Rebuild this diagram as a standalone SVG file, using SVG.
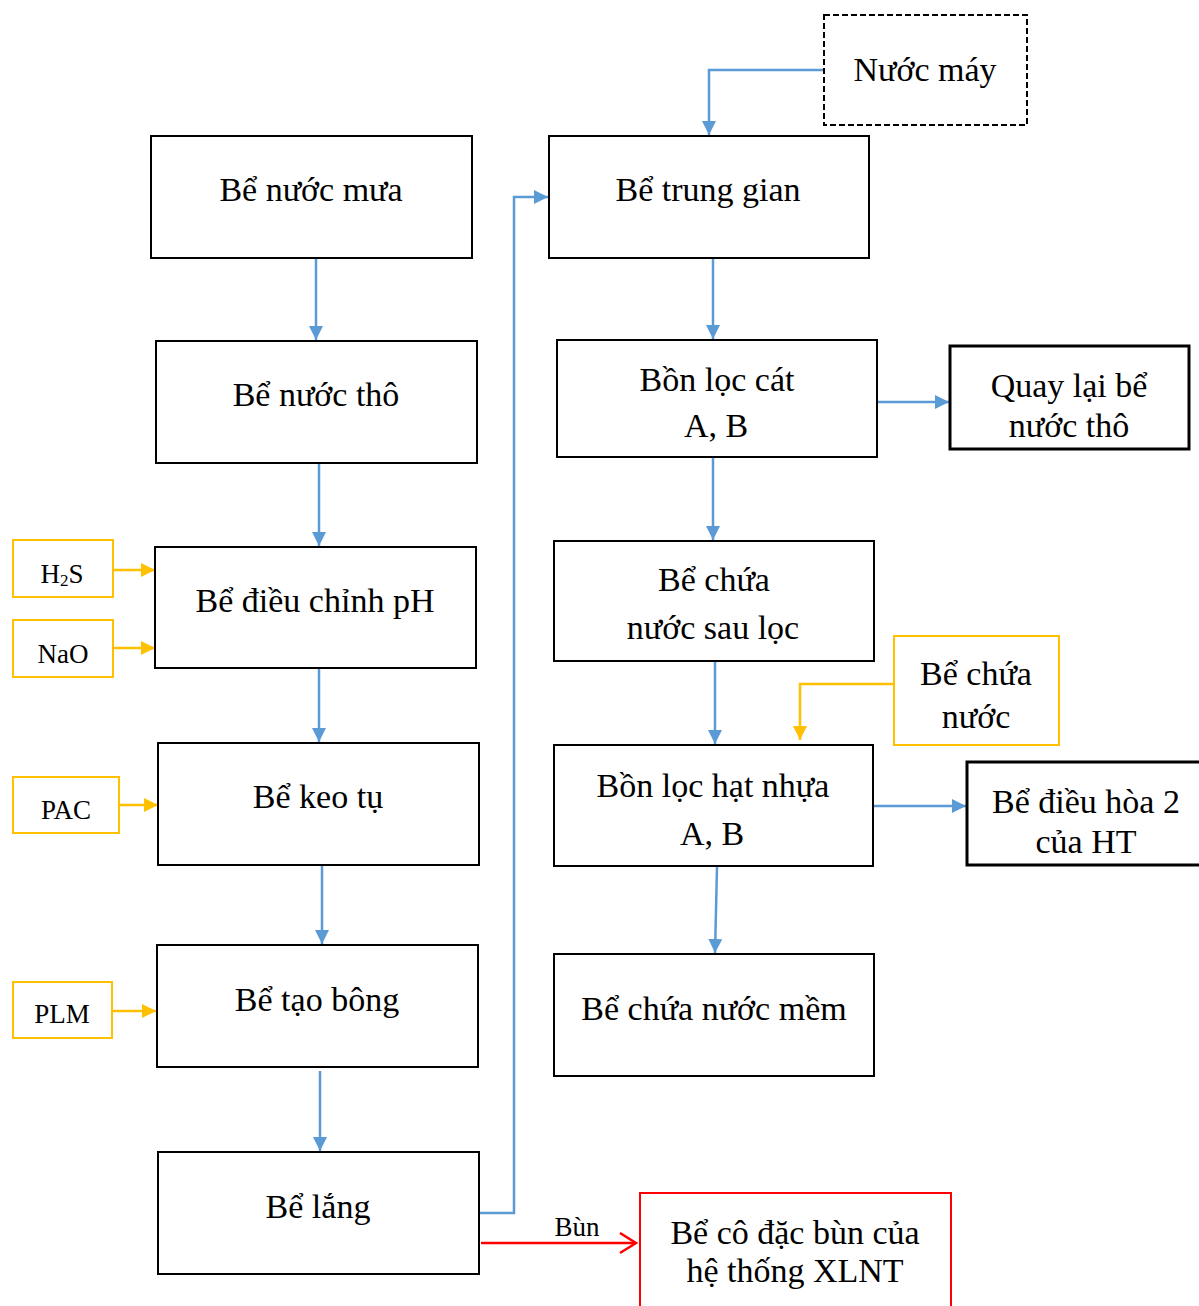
<svg xmlns="http://www.w3.org/2000/svg" width="1199" height="1306" viewBox="0 0 1199 1306">
  <defs>
    <style>
      .box { fill: #fff; stroke: #000; stroke-width: 2; }
      .thick { stroke-width: 3; }
      .dash { fill: #fff; stroke: #000; stroke-width: 2; stroke-dasharray: 6 3; }
      .ybox { fill: #fff; stroke: #FFC000; stroke-width: 2; }
      .rbox { fill: #fff; stroke: #FF0000; stroke-width: 2; }
      .t { font-family: "Liberation Serif", "Times New Roman", serif; font-size: 34px; fill: #000; text-anchor: middle; }
      .s { font-family: "Liberation Serif", "Times New Roman", serif; font-size: 27px; fill: #000; text-anchor: middle; }
      .blue { fill: none; stroke: #5B9BD5; stroke-width: 2.5; }
      .yel { fill: none; stroke: #FFC000; stroke-width: 2.5; }
      .red { fill: none; stroke: #FF0000; stroke-width: 2.5; }
    </style>
    <marker id="ab" markerUnits="userSpaceOnUse" markerWidth="16" markerHeight="16" refX="14" refY="7" orient="auto">
      <path d="M0,0 L14,7 L0,14 Z" fill="#5B9BD5"/>
    </marker>
    <marker id="ay" markerUnits="userSpaceOnUse" markerWidth="16" markerHeight="16" refX="14" refY="7" orient="auto">
      <path d="M0,0 L14,7 L0,14 Z" fill="#FFC000"/>
    </marker>
    <marker id="ar" markerUnits="userSpaceOnUse" markerWidth="20" markerHeight="24" refX="17" refY="11" orient="auto">
      <path d="M1,1 L17,11 L1,21" fill="none" stroke="#FF0000" stroke-width="2.5"/>
    </marker>
  </defs>

  <!-- connectors -->
  <g id="connectors">
    <path class="blue" d="M316,259 V340" marker-end="url(#ab)"/>
    <path class="blue" d="M319,464 V546" marker-end="url(#ab)"/>
    <path class="blue" d="M319,669 V742" marker-end="url(#ab)"/>
    <path class="blue" d="M322,866 V944" marker-end="url(#ab)"/>
    <path class="blue" d="M320,1071 V1151" marker-end="url(#ab)"/>
    <path class="blue" d="M480,1213 H514 V197 H548" marker-end="url(#ab)"/>
    <path class="blue" d="M824,70 H709 V135" marker-end="url(#ab)"/>
    <path class="blue" d="M713,259 V339" marker-end="url(#ab)"/>
    <path class="blue" d="M713,458 V540" marker-end="url(#ab)"/>
    <path class="blue" d="M715,662 V744" marker-end="url(#ab)"/>
    <path class="blue" d="M717,867 L715,953" marker-end="url(#ab)"/>
    <path class="blue" d="M878,402 H949" marker-end="url(#ab)"/>
    <path class="blue" d="M874,806 H966" marker-end="url(#ab)"/>
    <path class="yel" d="M894,684 H800 V740" marker-end="url(#ay)"/>
    <path class="yel" d="M114,570 H155" marker-end="url(#ay)"/>
    <path class="yel" d="M114,648 H155" marker-end="url(#ay)"/>
    <path class="yel" d="M120,805 H158" marker-end="url(#ay)"/>
    <path class="yel" d="M113,1011 H156" marker-end="url(#ay)"/>
    <path class="red" d="M481,1243 H636" marker-end="url(#ar)"/>
    <text class="s" x="577" y="1236" font-size="25">Bùn</text>
  </g>

  <!-- left column -->
  <g id="be-nuoc-mua">
    <rect class="box" x="151" y="136" width="321" height="122"/>
    <text class="t" x="311" y="201">Bể nước mưa</text>
  </g>
  <g id="be-nuoc-tho">
    <rect class="box" x="156" y="341" width="321" height="122"/>
    <text class="t" x="316" y="406">Bể nước thô</text>
  </g>
  <g id="be-dieu-chinh-ph">
    <rect class="box" x="155" y="547" width="321" height="121"/>
    <text class="t" x="315" y="612">Bể điều chỉnh pH</text>
  </g>
  <g id="be-keo-tu">
    <rect class="box" x="158" y="743" width="321" height="122"/>
    <text class="t" x="318" y="808">Bể keo tụ</text>
  </g>
  <g id="be-tao-bong">
    <rect class="box" x="157" y="945" width="321" height="122"/>
    <text class="t" x="317" y="1011">Bể tạo bông</text>
  </g>
  <g id="be-lang">
    <rect class="box" x="158" y="1152" width="321" height="122"/>
    <text class="t" x="318" y="1218">Bể lắng</text>
  </g>

  <!-- chemical dosing -->
  <g id="h2s">
    <rect class="ybox" x="13" y="540" width="100" height="57"/>
    <text class="s" x="62" y="583">H<tspan font-size="17" dy="3">2</tspan><tspan dy="-3">S</tspan></text>
  </g>
  <g id="nao">
    <rect class="ybox" x="13" y="620" width="100" height="57"/>
    <text class="s" x="63" y="663">NaO</text>
  </g>
  <g id="pac">
    <rect class="ybox" x="13" y="777" width="106" height="56"/>
    <text class="s" x="66" y="819">PAC</text>
  </g>
  <g id="plm">
    <rect class="ybox" x="13" y="982" width="99" height="56"/>
    <text class="s" x="62" y="1023">PLM</text>
  </g>

  <!-- right column -->
  <g id="nuoc-may">
    <rect class="dash" x="824" y="15" width="203" height="110"/>
    <text class="t" x="925" y="81">Nước máy</text>
  </g>
  <g id="be-trung-gian">
    <rect class="box" x="549" y="136" width="320" height="122"/>
    <text class="t" x="708" y="201">Bể trung gian</text>
  </g>
  <g id="bon-loc-cat">
    <rect class="box" x="557" y="340" width="320" height="117"/>
    <text class="t" x="717" y="391">Bồn lọc cát</text>
    <text class="t" x="716" y="437">A, B</text>
  </g>
  <g id="quay-lai">
    <rect class="box thick" x="950" y="346" width="239" height="103"/>
    <text class="t" x="1069" y="397">Quay lại bể</text>
    <text class="t" x="1069" y="437">nước thô</text>
  </g>
  <g id="be-chua-sau-loc">
    <rect class="box" x="554" y="541" width="320" height="120"/>
    <text class="t" x="714" y="591">Bể chứa</text>
    <text class="t" x="713" y="639">nước sau lọc</text>
  </g>
  <g id="be-chua-nuoc">
    <rect class="ybox" x="894" y="636" width="165" height="109"/>
    <text class="t" x="976" y="685" font-size="29">Bể chứa</text>
    <text class="t" x="976" y="728" font-size="29">nước</text>
  </g>
  <g id="bon-loc-hat-nhua">
    <rect class="box" x="554" y="745" width="319" height="121"/>
    <text class="t" x="713" y="797">Bồn lọc hạt nhựa</text>
    <text class="t" x="712" y="845">A, B</text>
  </g>
  <g id="be-dieu-hoa">
    <rect class="box thick" x="967" y="762" width="236" height="103"/>
    <text class="t" x="1086" y="813">Bể điều hòa 2</text>
    <text class="t" x="1086" y="853">của HT</text>
  </g>
  <g id="be-chua-nuoc-mem">
    <rect class="box" x="554" y="954" width="320" height="122"/>
    <text class="t" x="714" y="1020">Bể chứa nước mềm</text>
  </g>
  <g id="be-co-dac-bun">
    <rect class="rbox" x="640" y="1193" width="311" height="120"/>
    <text class="t" x="795" y="1244">Bể cô đặc bùn của</text>
    <text class="t" x="795" y="1282">hệ thống XLNT</text>
  </g>
</svg>
